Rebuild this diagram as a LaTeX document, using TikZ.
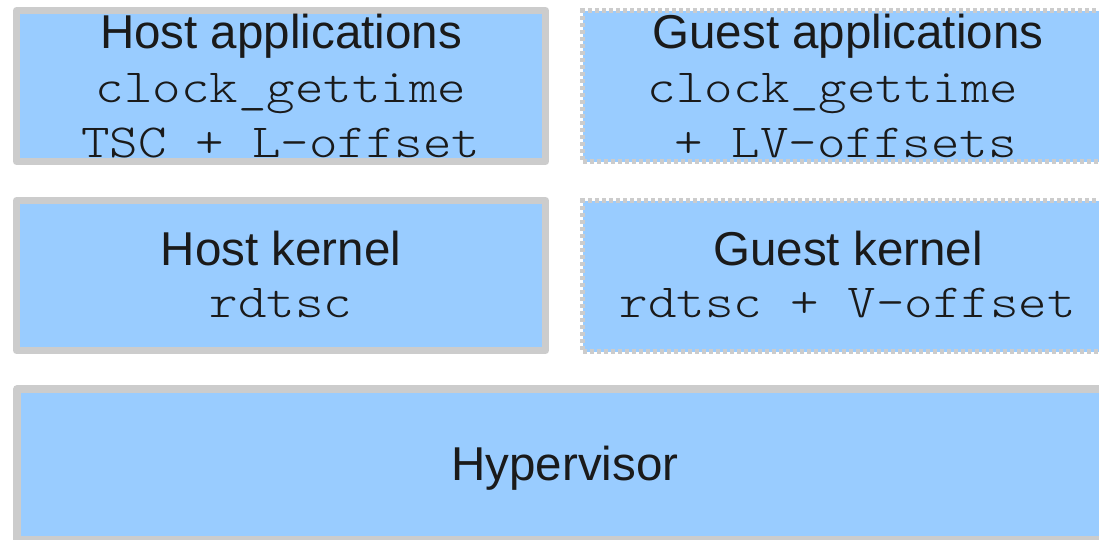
\documentclass[tikz,border=0pt]{standalone}
\usepackage{fontspec}
\setmainfont{Liberation Sans}
\setmonofont[FakeStretch=1.143]{Latin Modern Mono Light}
\definecolor{boxfill}{HTML}{99CCFF}
\definecolor{boxline}{HTML}{CCCCCC}
\definecolor{ink}{HTML}{1A1A1A}
\begin{document}
\begin{tikzpicture}[x=1pt,y=-1pt,
  layer/.style={rectangle, fill=boxfill, draw=boxline, line width=7pt,
    line join=round, inner sep=0pt},
  guestlayer/.style={rectangle, fill=boxfill, draw=boxline, line width=5pt,
    dash pattern=on 4pt off 3pt, inner sep=0pt},
  title/.style={font=\fontsize{47.5}{54}\selectfont, text=ink, anchor=base, inner sep=0pt},
  code/.style={font=\fontsize{47.5}{54}\selectfont\ttfamily, text=ink, anchor=base, inner sep=0pt}]
\useasboundingbox (0,0) rectangle (1099,539);

% host side
\node[layer, minimum width=529pt, minimum height=151pt] (hostapps) at (281,86) {};
\node[layer, minimum width=529pt, minimum height=150pt] (hostkernel) at (281,275.5) {};

% guest side (dotted borders)
\node[guestlayer, minimum width=531pt, minimum height=151pt] (guestapps) at (848,86) {};
\node[guestlayer, minimum width=531pt, minimum height=151pt] (guestkernel) at (848,276) {};

% hypervisor spans the full width
\node[layer, line width=7.5pt, minimum width=1096pt, minimum height=151pt] (hyper) at (565,464.5) {};

% labels
\node[title] (ha1) at (281,48) {Host applications};
\node[code]  (ha2) at (281,102) {clock\_gettime};
\node[code]  (ha3) at (281,157) {TSC + L-offset};

\node[title] (ga1) at (848,48) {Guest applications};
\node[code]  (ga2) at (833,102) {clock\_gettime};
\node[code]  (ga3) at (846,157) {+ LV-offsets};

\node[title] (hk1) at (281,265) {Host kernel};
\node[code]  (hk2) at (281,317) {rdtsc};

\node[title] (gk1) at (848,265) {Guest kernel};
\node[code]  (gk2) at (848,317) {rdtsc + V-offset};

\node[title] (hv) at (565,480) {Hypervisor};
\end{tikzpicture}
\end{document}
